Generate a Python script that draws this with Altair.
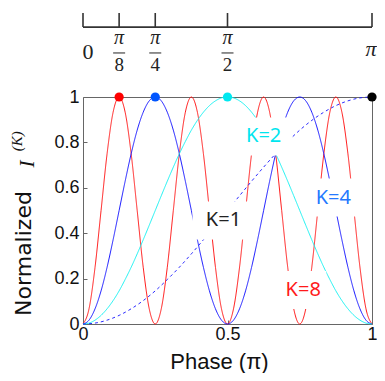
import altair as alt
import pandas as pd

# ---------------- data ----------------
x_fine = [i / 48 for i in range(49)]      # sampling grid for K=8, K=4, K=2
x_coarse = [j / 24 for j in range(25)]    # sampling grid for K=1

k8 = [0, .067, .25, .5, .75, .933, 1, .933, .75, .5, .25, .067,
      0, .067, .25, .5, .75, .933, 1, .933, .75, .5, .25, .067,
      0, .067, .25, .5, .75, .933, 1, .933, .75, .5, .25, .067,
      0, .067, .25, .5, .75, .933, 1, .933, .75, .5, .25, .067, 0]
k4 = [0, .017, .067, .146, .25, .371, .5, .629, .75, .854, .933, .983,
      1, .983, .933, .854, .75, .629, .5, .371, .25, .146, .067, .017,
      0, .017, .067, .146, .25, .371, .5, .629, .75, .854, .933, .983,
      1, .983, .933, .854, .75, .629, .5, .371, .25, .146, .067, .017, 0]
k2 = [0, .004, .017, .038, .067, .103, .146, .196, .25, .309, .371, .435,
      .5, .565, .629, .691, .75, .804, .854, .897, .933, .962, .983, .996,
      1, .996, .983, .962, .933, .897, .854, .804, .75, .691, .629, .565,
      .5, .435, .371, .309, .25, .196, .146, .103, .067, .038, .017, .004, 0]
k1 = [0, .004, .017, .038, .067, .103, .146, .196, .25, .309, .371, .435,
      .5, .565, .629, .691, .75, .804, .854, .897, .933, .962, .983, .996, 1]

series_names = ["K=8", "K=4", "K=2", "K=1"]
series_colors = ["#ff1010", "#1010ff", "#10f0f0", "#2020ff"]
series_dash = [[1, 0], [1, 0], [1, 0], [3, 3]]

dot_x = [0.125, 0.25, 0.5, 1.0]
dot_y = [1, 1, 1, 1]
dot_colors = ["#ff0000", "#0055ff", "#00e8f0", "#000000"]

label_text = ["K=2", "K=4", "K=1", "K=8"]
label_x = [0.625, 0.866, 0.486, 0.762]
label_y = [0.826, 0.557, 0.456, 0.150]
label_colors = ["#00e5ee", "#2479ff", "#222222", "#ff1a1a"]
label_box_w = [56, 47, 62, 46]

top_ticks = [0, 0.125, 0.25, 0.5, 1]
frac_x = [0.125, 0.25, 0.5]
frac_den = ["8", "4", "2"]
end_x = [0, 1]
end_text = ["0", "π"]

# ---------------- tables ----------------
rows = []
for name, xs_, ys_ in [("K=8", x_fine, k8), ("K=4", x_fine, k4),
                       ("K=2", x_fine, k2), ("K=1", x_coarse, k1)]:
    for a, b in zip(xs_, ys_):
        rows.append({"x": a, "y": b, "series": name})
curves = pd.DataFrame(rows)

xs = alt.Scale(domain=[0, 1], nice=False, zero=False)
ys = alt.Scale(domain=[0, 1], nice=False, zero=False)
xaxis = alt.Axis(values=[0, 0.5, 1], format="~g", title="Phase (π)",
                 tickSize=4, offset=-4, domain=False, grid=False,
                 labelFlush=False, labelPadding=1, titlePadding=8, titleX=136)
yaxis = alt.Axis(values=[0, 0.2, 0.4, 0.6, 0.8, 1], format="~g",
                 title="Normalized", tickSize=4, offset=-4,
                 titleFont="DejaVu Sans", titleFontSize=22,
                 domain=False, grid=False, labelPadding=4, titlePadding=18, titleY=156)


def X(field="x"):
    return alt.X(f"{field}:Q", scale=xs, axis=xaxis)


def Y(field="y"):
    return alt.Y(f"{field}:Q", scale=ys, axis=yaxis)


lines = alt.Chart(curves).mark_line(strokeWidth=0.95, interpolate="monotone").encode(
    x=X(), y=Y(),
    color=alt.Color("series:N", scale=alt.Scale(domain=series_names, range=series_colors), legend=None),
    strokeDash=alt.StrokeDash("series:N", scale=alt.Scale(domain=series_names, range=series_dash), legend=None),
)

boxes = []
for t, lx, ly, w in zip(label_text, label_x, label_y, label_box_w):
    d = pd.DataFrame({"x": [lx], "y": [ly]})
    boxes.append(alt.Chart(d).mark_rect(color="white", width=w, height=38).encode(x=X(), y=Y()))

lab_df = pd.DataFrame({"x": label_x, "y": label_y, "text": label_text, "c": label_colors})
labels = alt.Chart(lab_df).mark_text(fontSize=20, font="Noto Sans", baseline="middle", align="center").encode(
    x=X(), y=Y(), text="text:N", color=alt.Color("c:N", scale=None))

dot_df = pd.DataFrame({"x": dot_x, "y": dot_y, "c": dot_colors})
dots = alt.Chart(dot_df).mark_circle(size=85, opacity=1).encode(
    x=X(), y=Y(), color=alt.Color("c:N", scale=None))

# ---------------- the italic I^(K) part of the y title ----------------
ytitle_parts = ["I", "(K)"]
ytitle_x = [-0.192, -0.230]
ytitle_y = [0.705, 0.805]
ti = alt.Chart(pd.DataFrame({"x": ytitle_x[:1], "y": ytitle_y[:1], "t": ytitle_parts[:1]})).mark_text(
    font="Liberation Serif", fontStyle="italic", fontSize=21, angle=270, baseline="middle",
    color="#111111").encode(x=X(), y=Y(), text="t:N")
tk = alt.Chart(pd.DataFrame({"x": ytitle_x[1:], "y": ytitle_y[1:], "t": ytitle_parts[1:]})).mark_text(
    font="Liberation Serif", fontStyle="italic", fontSize=15, angle=270, baseline="middle",
    color="#111111").encode(x=X(), y=Y(), text="t:N")

# ---------------- decorative phase axis above the plot ----------------
AX_Y, TICK_TOP, NUM_Y, BAR_Y, DEN_Y, END0_Y, END1_Y = 1.308, 1.370, 1.260, 1.194, 1.141, 1.198, 1.211
top_line = alt.Chart(pd.DataFrame({"x": [0], "x2": [1], "y": [AX_Y]})).mark_rule(
    color="#333333", strokeWidth=1.6).encode(x=X(), x2="x2:Q", y=Y())
top_tick = alt.Chart(pd.DataFrame({"x": top_ticks, "y": [AX_Y] * len(top_ticks),
                                   "y2": [TICK_TOP] * len(top_ticks)})).mark_rule(
    color="#333333", strokeWidth=1.6).encode(x=X(), y=Y(), y2="y2:Q")
num = alt.Chart(pd.DataFrame({"x": frac_x, "y": [NUM_Y] * 3, "t": ["π"] * 3})).mark_text(
    font="Liberation Serif", fontStyle="italic", fontSize=20, baseline="middle", color="#222222").encode(
    x=X(), y=Y(), text="t:N")
bar = alt.Chart(pd.DataFrame({"x": frac_x, "y": [BAR_Y] * 3})).mark_tick(
    orient="horizontal", size=12, thickness=1, color="#222222", opacity=1).encode(x=X(), y=Y())
den = alt.Chart(pd.DataFrame({"x": frac_x, "y": [DEN_Y] * 3, "t": frac_den})).mark_text(
    font="Liberation Serif", fontSize=19, baseline="middle", color="#222222").encode(
    x=X(), y=Y(), text="t:N")
end0 = alt.Chart(pd.DataFrame({"x": end_x[:1], "y": [END0_Y], "t": end_text[:1]})).mark_text(
    font="Liberation Serif", fontSize=22, baseline="middle", color="#222222", dx=5).encode(
    x=X(), y=Y(), text="t:N")
end1 = alt.Chart(pd.DataFrame({"x": end_x[1:], "y": [END1_Y], "t": end_text[1:]})).mark_text(
    font="Liberation Serif", fontStyle="italic", fontSize=22, baseline="middle", color="#222222",
    dx=-1).encode(x=X(), y=Y(), text="t:N")

chart = alt.layer(lines, *boxes, labels, dots, ti, tk, top_line, top_tick, num, bar, den, end0, end1).properties(
    width=289, height=227,
    autosize=alt.AutoSizeParams(type="none"),
    padding={"left": 75, "top": 89, "right": 5, "bottom": 49},
).configure_view(stroke="#666666", strokeWidth=1).configure_axis(
    labelFont="Liberation Sans", titleFont="Liberation Sans", labelFontSize=18,
    titleFontSize=22, titleFontWeight="normal", labelColor="#111111", titleColor="#111111",
    tickColor="#666666")

chart.save("out.html", embed_options={"renderer": "svg", "actions": False})
